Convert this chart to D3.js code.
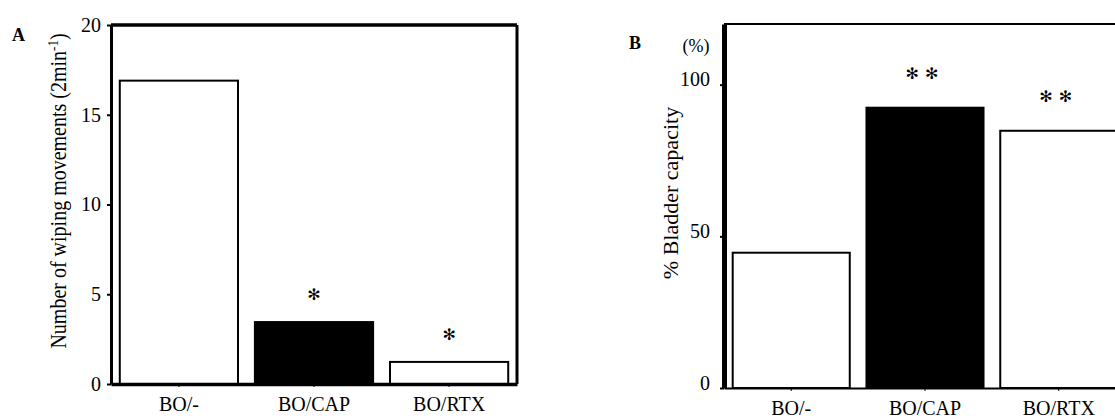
<!DOCTYPE html>
<html>
<head>
<meta charset="utf-8">
<script src="https://cdn.jsdelivr.net/npm/d3@7"></script>
<style>
  body { margin: 0; background: #fff; }
  text { font-family: "Liberation Serif", "DejaVu Serif", serif; fill: #000; }
</style>
</head>
<body>
<div id="chart"></div>
<script>
// data
const groups = ["BO/-", "BO/CAP", "BO/RTX"];
const wiping = [16.9, 3.45, 1.23];          // panel A, wiping movements (2min-1)
const capacity = [44.6, 92.4, 84.8];        // panel B, % bladder capacity
const wipingStars = ["", "\u273B", "\u273B"];
const capacityStars = ["", "\u273B\u273B", "\u273B\u273B"];
const barFills = ["#fff", "#000", "#fff"];
const wipingTicks = [0, 5, 10, 15, 20];
const capacityTicks = [0, 50, 100];

const svg = d3.select("#chart").append("svg")
  .attr("width", 1115)
  .attr("height", 419);

function panel(opt) {
  const x = d3.scaleBand().domain(groups).range(opt.xr)
    .paddingInner(0.125).paddingOuter(0.065);
  const y = d3.scaleLinear().domain(opt.domain).range(opt.yr);
  const g = svg.append("g");

  // bars
  g.selectAll("rect.bar")
    .data(opt.values)
    .join("rect")
    .attr("class", "bar")
    .attr("x", (d, i) => x(groups[i]))
    .attr("width", x.bandwidth())
    .attr("y", d => y(d))
    .attr("height", d => y(0) - y(d))
    .attr("fill", (d, i) => barFills[i])
    .attr("stroke", "#000")
    .attr("stroke-width", 2);

  // significance marks
  g.selectAll("text.star")
    .data(opt.stars)
    .join("text")
    .attr("class", "star")
    .attr("x", (d, i) => x(groups[i]) + x.bandwidth() / 2)
    .attr("y", (d, i) => y(opt.values[i]) - opt.starGap)
    .attr("dy", "0.35em")
    .attr("text-anchor", "middle")
    .style("font-family", "DejaVu Sans")
    .style("font-size", "16px")
    .style("letter-spacing", opt.starSpace)
    .text(d => d);

  // frame
  const [x0, x1] = opt.xr, [yb, yt] = opt.yr;
  g.append("line").attr("x1", x0).attr("x2", x1).attr("y1", yt).attr("y2", yt)
    .attr("stroke", "#000").attr("stroke-width", opt.topW);
  g.append("line").attr("x1", x1).attr("x2", x1).attr("y1", yt).attr("y2", yb)
    .attr("stroke", "#000").attr("stroke-width", opt.rightW);

  // y axis
  const ya = g.append("g")
    .attr("transform", `translate(${x0},0)`)
    .call(d3.axisLeft(y).tickValues(opt.ticks).tickSize(4).tickPadding(opt.tickPad).tickSizeOuter(0));
  ya.select(".domain").attr("stroke-width", opt.leftW);
  ya.selectAll(".tick line").attr("stroke-width", 2);
  ya.selectAll(".tick text")
    .style("font-size", "20px")
    .attr("font-family", null)
    .attr("dy", opt.labelDy);

  // x axis
  const xa = g.append("g")
    .attr("transform", `translate(0,${yb})`)
    .call(d3.axisBottom(x).tickSize(3).tickPadding(10).tickSizeOuter(0));
  xa.select(".domain").attr("stroke-width", opt.bottomW);
  xa.selectAll(".tick text").style("font-size", "20px").attr("font-family", null);

  // axis title
  g.append("text")
    .attr("transform", `translate(${opt.title[0]},${opt.title[1]}) rotate(-90) scale(1,${opt.titleStretch})`)
    .attr("text-anchor", "middle")
    .attr("dy", "0.35em")
    .style("font-size", opt.titleSize)
    .html(opt.titleText);

  g.append("text")
    .attr("x", opt.letter[0]).attr("y", opt.letter[1])
    .style("font-size", "18px").style("font-weight", "bold")
    .text(opt.letterText);
  return g;
}

panel({
  xr: [111, 517], yr: [384, 25], domain: [0, 20],
  values: wiping, stars: wipingStars, starGap: 28, starSpace: "0px",
  ticks: wipingTicks, tickPad: 6, labelDy: "0.32em",
  leftW: 3, topW: 3.5, rightW: 3, bottomW: 3.5,
  title: [58, 191], titleSize: "20px", titleStretch: 1.15,
  titleText: 'Number of wiping movements (2min<tspan dy="-7" font-size="13px">-1</tspan><tspan dy="7">)</tspan>',
  letter: [12, 41], letterText: "A"
});

const pB = panel({
  xr: [724, 1126], yr: [388, 24], domain: [0, 120],
  values: capacity, stars: capacityStars, starGap: 34, starSpace: "6px",
  ticks: capacityTicks, tickPad: 10, labelDy: "0.05em",
  leftW: 5, topW: 2, rightW: 2, bottomW: 2,
  title: [670, 193], titleSize: "22px", titleStretch: 1,
  titleText: "% Bladder capacity",
  letter: [629, 49], letterText: "B"
});
pB.append("text")
  .attr("x", 696).attr("y", 46).attr("dy", "0.35em")
  .attr("text-anchor", "middle")
  .style("font-size", "18px")
  .text("(%)");
</script>
</body>
</html>
